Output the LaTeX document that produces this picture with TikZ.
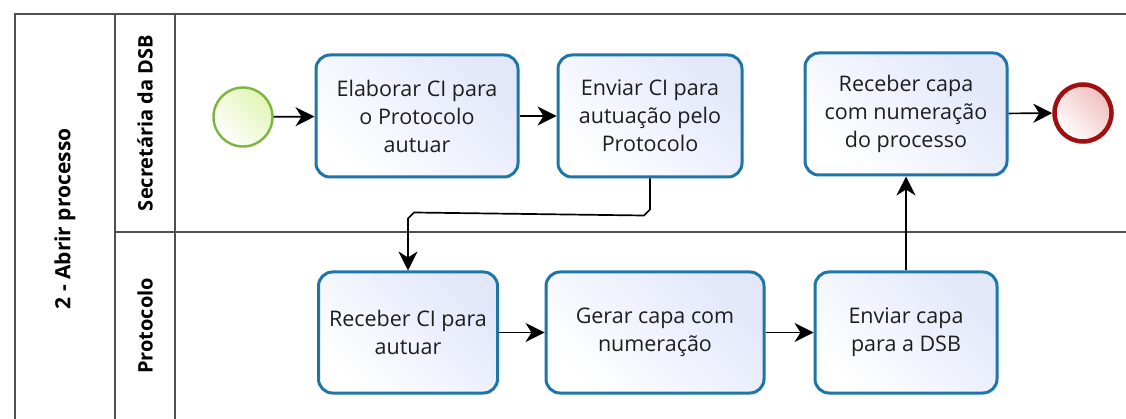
\documentclass[tikz,border=0pt]{standalone}
\usepackage{fontspec}
\setmainfont{Open Sans}
\usetikzlibrary{arrows.meta,calc}
\definecolor{taskborder}{RGB}{30,118,168}
\definecolor{taskfill}{RGB}{226,231,250}
\definecolor{startborder}{RGB}{122,182,62}
\definecolor{startfill}{RGB}{226,245,180}
\definecolor{endborder}{RGB}{160,16,16}
\definecolor{endfill}{RGB}{240,190,190}
\definecolor{poolline}{RGB}{80,80,80}
\definecolor{txt}{RGB}{30,30,30}
\tikzset{
  task/.style={draw=taskborder, line width=3pt, rounded corners=14pt,
    top color=white, bottom color=taskfill, shading angle=135,
    align=center, text=txt, font=\fontsize{21.5}{28}\selectfont,
    inner sep=0pt, minimum height=122pt},
  startev/.style={circle, draw=startborder, line width=2.4pt, minimum size=59pt,
    inner sep=0pt, top color=white, bottom color=startfill, shading angle=135},
  endev/.style={circle, draw=endborder, line width=4.5pt, minimum size=57pt,
    inner sep=0pt, top color=white, bottom color=endfill, shading angle=135},
  flow/.style={line width=1.7pt, draw=black, -{Stealth[length=19pt,width=19pt,inset=6pt]}},
  lanelabel/.style={rotate=90, font=\bfseries\fontsize{20}{24}\selectfont, text=black},
  poolouter/.style={draw=poolline, line width=1.8pt},
  poolinner/.style={draw=poolline, line width=1.3pt}
}
\begin{document}
\begin{tikzpicture}[x=1pt,y=-1pt]
\useasboundingbox[fill=white] (0,0) rectangle (1126,419);
% pool and lanes
\draw[poolouter] (15,425) -- (15,14) -- (1130,14);
\draw[poolinner] (115,14) -- (115,425);
\draw[poolinner] (175,14) -- (175,425);
\draw[poolinner] (115,232) -- (1130,232);
\node[lanelabel, font=\bfseries\fontsize{21}{24}\selectfont] (pool) at (65,219) {2 - Abrir processo};
\node[lanelabel] (lane1) at (145,123) {Secretária da DSB};
\node[lanelabel] (lane2) at (145,326) {Protocolo};
% events and tasks
\node[startev] (start) at (243,117) {};
\node[task, minimum width=202pt] (t1) at (417,116) {Elaborar CI para\\o Protocolo\\autuar};
\node[task, minimum width=184pt] (t2) at (650,116) {Enviar CI para\\autuação pelo\\Protocolo};
\node[task, minimum width=202pt] (t6) at (906,114) {Receber capa\\com numeração\\do processo};
\node[endev] (end) at (1083,113) {};
\node[task, minimum width=179pt, minimum height=121pt] (t3) at (408,332.5) {Receber CI para\\autuar};
\node[task, minimum width=218pt, minimum height=121pt] (t4) at (655,332.5) {Gerar capa com\\numeração};
\node[task, minimum width=182pt, minimum height=121pt] (t5) at (906,332.5) {Enviar capa\\para a DSB};
% flows
\draw[flow] (start) -- (t1);
\draw[flow] (t1) -- (t2);
\draw[flow] (t2.south) -- ++(0,31) -- ++(-6,6) -- ($(t3.north)+(6,-58)$) -- ++(-6,6) -- (t3.north);
\draw[flow] (t3) -- (t4);
\draw[flow] (t4) -- (t5);
\draw[flow] (t5) -- (t6);
\draw[flow] (t6) -- (end);
\end{tikzpicture}
\end{document}
